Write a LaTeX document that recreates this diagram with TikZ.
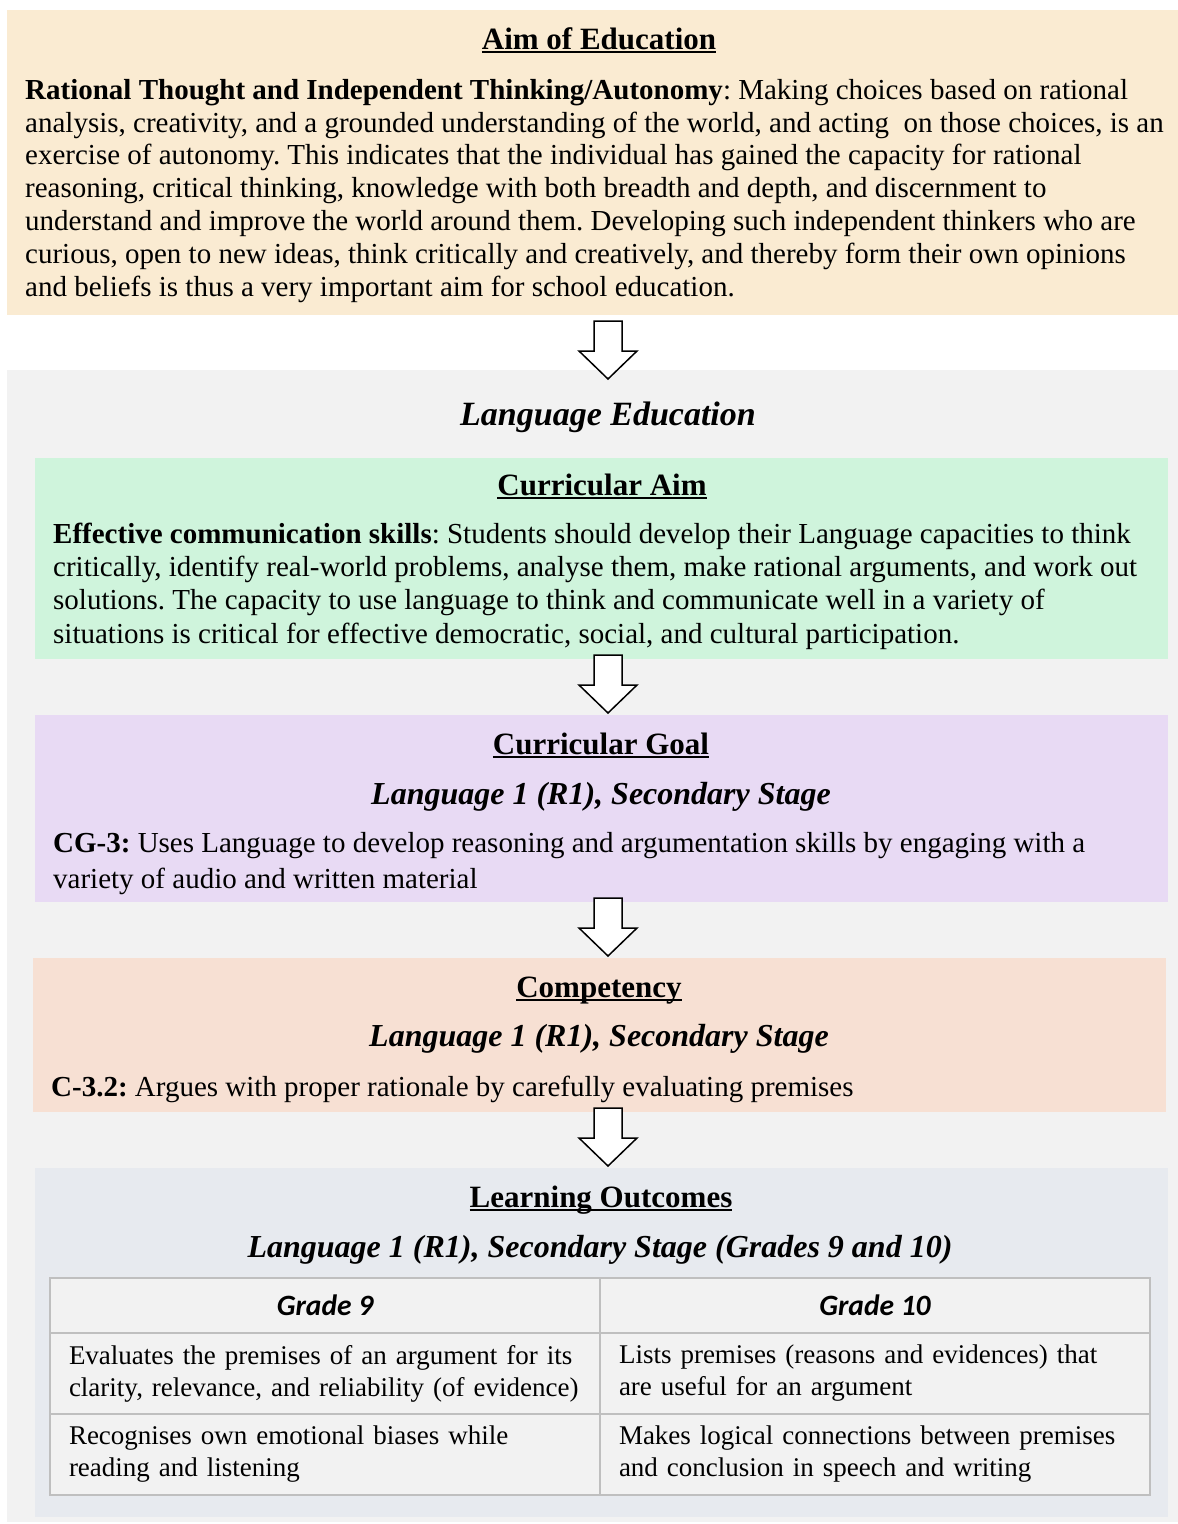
\documentclass[tikz,border=0pt]{standalone}
\usepackage{fontspec}
\setmainfont{Liberation Serif}
\newfontfamily\gradefont{Carlito}
\usetikzlibrary{positioning}
\frenchspacing

\definecolor{aimfill}{HTML}{FAEBD2}
\definecolor{langfill}{HTML}{F2F2F2}
\definecolor{aimsfill}{HTML}{CFF4DC}
\definecolor{goalfill}{HTML}{E8DAF4}
\definecolor{compfill}{HTML}{F7E0D3}
\definecolor{outfill}{HTML}{E7EAEF}
\definecolor{cellfill}{HTML}{F2F2F2}
\definecolor{cellline}{HTML}{BFBFBF}

\newcommand\ulined[1]{\setbox0\hbox{#1}\rlap{\usebox0}\rule[-4pt]{\wd0}{2pt}}

\tikzset{
  panel/.style={anchor=north west, inner sep=0pt, outer sep=0pt, minimum width=#1},
  heading/.style={anchor=base, inner sep=0pt, font=\fontsize{31}{36}\selectfont\bfseries},
  subheading/.style={anchor=base, inner sep=0pt, font=\fontsize{32}{36}\selectfont\bfseries\itshape},
  % anchored at the baseline of the last line
  bodytext/.style={anchor=base west, align=left, inner sep=0pt, font=\fontsize{29}{32.8}\selectfont},
  cell/.style={draw=cellline, line width=1.2pt, fill=cellfill, minimum width=550pt,
    inner xsep=19pt, inner ysep=0pt, outer sep=0pt},
  celltext/.style={cell, text width=512pt, align=left, minimum height=81pt,
    font=\fontsize{27}{32}\selectfont},
  gradehead/.style={cell, minimum height=55pt, font=\fontsize{29.5}{32}\gradefont\bfseries\itshape},
  downarr/.pic={
    \draw[line width=1.5pt, fill=white, line join=miter]
      (-14,0) -- (14,0) -- (14,30) -- (29,30) -- (0,58) -- (-29,30) -- (-14,30) -- cycle;
  }
}

\begin{document}
\begin{tikzpicture}[x=1pt, y=-1pt]
\useasboundingbox[fill=white] (0,0) rectangle (1178,1524);

% aim of education
\node[panel=1171pt, minimum height=305pt, fill=aimfill] (aim) at (7,10) {};
\node[heading] (aimhead) at (599,49) {\ulined{Aim of Education}};
\node[bodytext] (aimtext) at (25,296) {\textbf{Rational Thought and Independent Thinking/Autonomy}: Making choices based on rational\\
analysis, creativity, and a grounded understanding of the world, and acting\ \ on those choices, is an\\
exercise of autonomy. This indicates that the individual has gained the capacity for rational\\
reasoning, critical thinking, knowledge with both breadth and depth, and discernment to\\
understand and improve the world around them. Developing such independent thinkers who are\\
curious, open to new ideas, think critically and creatively, and thereby form their own opinions\\
and beliefs is thus a very important aim for school education.};

% language education
\node[panel=1171pt, minimum height=1152pt, fill=langfill] (lang) at (7,370) {};
\node[subheading, font=\fontsize{34}{38}\selectfont\bfseries\itshape] (langhead) at (608,425) {Language Education};

% curricular aim
\node[panel=1133pt, minimum height=201pt, fill=aimsfill] (caim) at (35,458) {};
\node[heading] (caimhead) at (602,495) {\ulined{Curricular Aim}};
\node[bodytext, font=\fontsize{29}{33.3}\selectfont] (caimtext) at (53,643) {\textbf{Effective communication skills}: Students should develop their Language capacities to think\\
critically, identify real-world problems, analyse them, make rational arguments, and work out\\
solutions. The capacity to use language to think and communicate well in a variety of\\
situations is critical for effective democratic, social, and cultural participation.};

% curricular goal
\node[panel=1133pt, minimum height=187pt, fill=goalfill] (goal) at (35,715) {};
\node[heading] (goalhead) at (601,754) {\ulined{Curricular Goal}};
\node[subheading] (goalsub) at (601,804) {Language 1 (R1), Secondary Stage};
\node[bodytext, font=\fontsize{29}{36}\selectfont] (goaltext) at (53,888) {\textbf{CG-3:} Uses Language to develop reasoning and argumentation skills by engaging with a\\
variety of audio and written material};

% competency
\node[panel=1133pt, minimum height=154pt, fill=compfill] (comp) at (33,958) {};
\node[heading] (comphead) at (599,997) {\ulined{Competency}};
\node[subheading] (compsub) at (599,1046) {Language 1 (R1), Secondary Stage};
\node[bodytext] (comptext) at (51,1096) {\textbf{C-3.2:} Argues with proper rationale by carefully evaluating premises};

% learning outcomes
\node[panel=1133pt, minimum height=349pt, fill=outfill] (out) at (35,1168) {};
\node[heading] (outhead) at (601,1207) {\ulined{Learning Outcomes}};
\node[subheading] (outsub) at (600,1257) {Language 1 (R1), Secondary Stage (Grades 9 and 10)};

% table of outcomes
\node[gradehead, anchor=north west] (g9) at (50,1278) {Grade 9};
\node[gradehead, right=0pt of g9] (g10) {Grade 10};
\node[celltext, below=0pt of g9] (g9a) {Evaluates the premises of an argument for its\\ clarity, relevance, and reliability (of evidence)};
\node[celltext, below=0pt of g10] (g10a) {Lists premises (reasons and evidences) that\\ are useful for an argument};
\node[celltext, below=0pt of g9a] (g9b) {Recognises own emotional biases while\\ reading and listening};
\node[celltext, below=0pt of g10a] (g10b) {Makes logical connections between premises\\ and conclusion in speech and writing};

% block arrows
\pic at (608,321) {downarr};
\pic at (608,655) {downarr};
\pic at (608,898) {downarr};
\pic at (608,1108) {downarr};
\end{tikzpicture}
\end{document}
